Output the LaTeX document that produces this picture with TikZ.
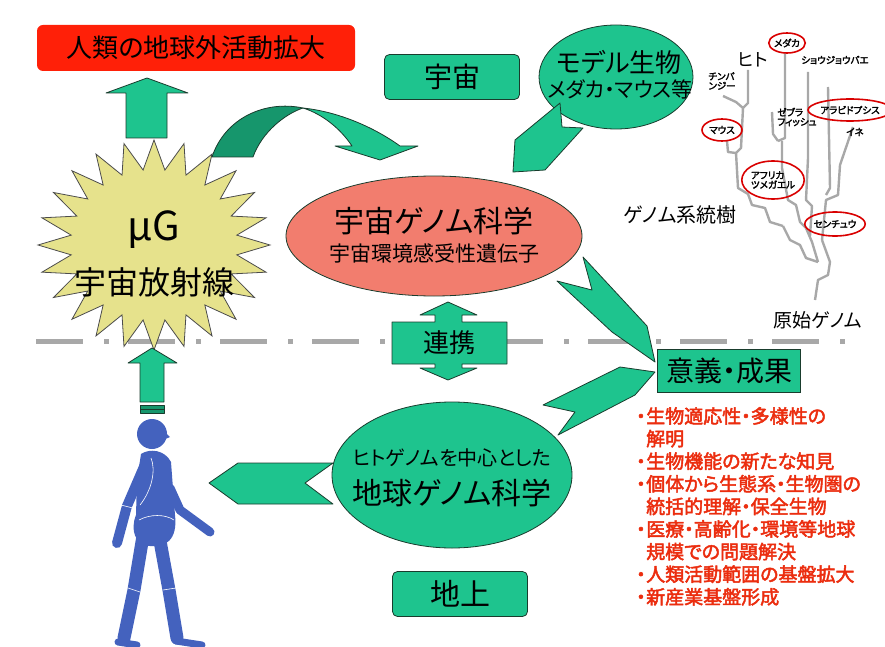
\documentclass[tikz,border=0pt]{standalone}
\usepackage{fontspec}
\usepackage{xcolor}
\setmainfont{Noto Sans CJK JP}[RawFeature=+palt]
\newfontfamily\heavy{Noto Sans CJK JP}[RawFeature=+palt,FakeBold=2.5]
\usetikzlibrary{shapes.geometric}
\definecolor{boxgreen}{RGB}{30,196,142}
\definecolor{shadegreen}{RGB}{22,150,108}
\definecolor{edgegreen}{RGB}{25,60,45}
\definecolor{burst}{RGB}{230,226,140}
\definecolor{titlered}{RGB}{255,32,8}
\definecolor{salmon}{RGB}{242,125,110}
\definecolor{listred}{RGB}{235,45,15}
\definecolor{treegray}{RGB}{168,168,168}
\definecolor{bodyblue}{RGB}{68,98,190}
\newcommand{\fsize}[1]{\fontsize{#1}{#1}\selectfont}
\newcommand{\Bullet}{\makebox[10pt][l]{・}}
\newcommand{\Indent}{\hspace*{10pt}}

\begin{document}
\begin{tikzpicture}[x=1pt,y=-1pt,
	gbox/.style={draw=edgegreen,line width=0.8pt,fill=boxgreen,rounded corners=5pt,minimum width=135,minimum height=45,inner sep=0pt},
	gshape/.style={draw=edgegreen,line width=0.8pt,fill=boxgreen,line join=round},
	genome/.style={ellipse,draw=edgegreen,line width=0.8pt,inner sep=0pt},
	branch/.style={draw=treegray,line width=2.4pt,line join=round},
	species/.style={font=\heavy\fsize{9.5},align=center,inner sep=0pt},
	marked/.style={ellipse,draw=red!85!black,line width=1.6pt,inner sep=0pt},
	limb/.style={draw=bodyblue,line cap=round,line join=round}]

	\useasboundingbox (0,0) rectangle (885,647);

	% border between space and ground
	\draw[treegray,line width=5pt,dash pattern=on 47pt off 21pt on 5pt off 19pt] (36,341) -- (846,341);

	% top banner
	\node[fill=titlered,rounded corners=6pt,minimum width=318,minimum height=46,inner sep=0pt,font=\fsize{26}] (title) at (196,48) {人類の地球外活動拡大};
	\draw[gshape] (126,138) -- (126,93) -- (106,93) -- (147,78) -- (188,93) -- (167,93) -- (167,138) -- cycle;% up to banner

	% microgravity burst
	\draw[draw=black!70,fill=burst,line width=0.8pt,line join=miter] plot[samples at={0,...,47},variable=\k]
		({154+116*ifthenelse(mod(\k,2)==0,1,0.72)*cos(7.5*\k)},{245+105*ifthenelse(mod(\k,2)==0,1,0.72)*sin(7.5*\k)}) -- cycle;
	\node[font=\fsize{40}] (mug) at (154,230) {μG};
	\node[font=\fsize{32}] (ray) at (154,282) {宇宙放射線};

	% curved arrow from burst to space genome
	\draw[gshape,fill=shadegreen] (212,157) .. controls (225,118) and (265,100) .. (303,108) .. controls (285,114) and (262,132) .. (253,157) -- cycle;
	\draw[gshape] (303,108) .. controls (340,112) and (375,128) .. (400,146) -- (418,146) -- (380,160) -- (335,146) -- (352,146) .. controls (340,128) and (322,114) .. (303,108) -- cycle;

	% space side
	\node[gbox,font=\fsize{28}] (space) at (452,77) {宇宙};
	\node[genome,fill=boxgreen,minimum width=154,minimum height=104] (model) at (616,77) {};
	\node[font=\fsize{26}] (modeltop) at (619,62) {モデル生物};
	\node[font=\fsize{21}] (modelsub) at (620,89) {メダカ・マウス等};
	\draw[gshape] (560,103) -- (515,140) -- (513,172) -- (545,170) -- (583,128) -- (562,127) -- cycle;% model -> space genome

	\node[genome,fill=salmon,minimum width=296,minimum height=120] (spacegenome) at (434,236) {};
	\node[font=\fsize{30}] (sgtop) at (434,221) {宇宙ゲノム科学};
	\node[font=\fsize{21}] (sgsub) at (434,253) {宇宙環境感受性遺伝子};

	% link between space and ground
	\draw[gshape] (448,302) -- (477,315) -- (462,315) -- (462,322) -- (507,322) -- (507,364) -- (462,364) -- (462,368)
		-- (477,368) -- (448,380) -- (420,368) -- (435,368) -- (435,364) -- (392,364) -- (392,322) -- (435,322) -- (435,315) -- (420,315) -- cycle;
	\node[font=\fsize{26}] (link) at (449,343) {連携};

	% arrows into results
	\draw[gshape] (583,257) -- (647,326) -- (655,362) -- (612,332) -- (557,281) -- (592,290) -- cycle;% space genome -> results
	\draw[gshape] (543,405) -- (620,367) -- (655,372) -- (635,395) -- (558,435) -- (575,412) -- cycle;% earth genome -> results

	% ground side
	\draw[gshape] (209,483) -- (238,463) -- (333,463) -- (305,483) -- (333,504) -- (238,504) -- cycle;% earth genome -> human
	\node[genome,fill=boxgreen,minimum width=240,minimum height=146] (earthgenome) at (452,475) {};
	\node[font=\fsize{20}] (egtop) at (452,458) {ヒトゲノムを中心とした};
	\node[font=\fsize{30}] (egsub) at (452,493) {地球ゲノム科学};
	\node[gbox,font=\fsize{30}] (ground) at (460,594) {地上};

	% results
	\node[gbox,rounded corners=0pt,minimum width=143,minimum height=43,font=\fsize{28}] (result) at (729,371) {意義・成果};
	\node[anchor=north west,align=left,inner sep=0pt,text=listred,font=\heavy\fontsize{19}{22.6}\selectfont] (merits) at (636,407) {%
		\Bullet 生物適応性・多様性の\\
		\Indent 解明\\
		\Bullet 生物機能の新たな知見\\
		\Bullet 個体から生態系・生物圏の\\
		\Indent 統括的理解・保全生物\\
		\Bullet 医療・高齢化・環境等地球\\
		\Indent 規模での問題解決\\
		\Bullet 人類活動範囲の基盤拡大\\
		\Bullet 新産業基盤形成};

	% genome tree
	\draw[branch] (748,70) -- (748,103) -- (743,108);
	\draw[branch] (723,96) -- (736,102) -- (743,108);
	\draw[branch] (743,108) -- (741,148) -- (736,153);
	\draw[branch] (727,141) -- (728,152) -- (736,153);
	\draw[branch] (736,153) -- (738,188) -- (748,194) -- (752,205) -- (765,208) -- (770,222) -- (783,226);
	\draw[branch] (785,53) -- (785,138) -- (778,141);
	\draw[branch] (772,112) -- (773,134) -- (778,141);
	\draw[branch] (782,141) -- (782,168) -- (788,200) -- (796,205) -- (800,222) -- (806,228);
	\draw[branch] (808,72) -- (808,158) -- (806,200) -- (812,206) -- (810,236);
	\draw[branch] (828,87) -- (830,188) -- (826,195);
	\draw[branch] (853,127) -- (840,165) -- (838,195) -- (826,200) -- (822,240);
	\draw[branch] (783,226) -- (790,240) -- (800,245) -- (806,258) -- (818,262);
	\draw[branch] (806,228) -- (812,242) -- (818,262);
	\draw[branch] (822,240) -- (830,262) -- (828,275) -- (818,280) -- (815,300);
	\node[font=\fsize{18}] (human) at (753,60) {ヒト};
	\node[species,marked,minimum width=32,minimum height=20] (medaka) at (787,43) {メダカ};
	\node[species] (fly) at (835,60) {ショウジョウバエ};
	\node[species,align=left] (chimp) at (722,81) {チンパ\\ンジー};
	\node[species,align=left] (zebra) at (797,117) {ゼブラ\\フィッシュ};
	\node[species,marked,minimum width=68,minimum height=22] (cress) at (850,110) {アラビドプシス};
	\node[species] (rice) at (855,132) {イネ};
	\node[species,marked,minimum width=40,minimum height=22] (mouse) at (722,130) {マウス};
	\node[species,marked,align=left,minimum width=56,minimum height=38] (frog) at (773,180) {アフリカ\\ツメガエル};
	\node[species,marked,minimum width=58,minimum height=24] (worm) at (835,224) {センチュウ};
	\node[font=\fsize{20}] (treename) at (680,215) {ゲノム系統樹};
	\node[font=\fsize{19}] (origin) at (818,320) {原始ゲノム};

	% human figure
	\draw[gshape] (140,402) -- (140,363) -- (128,363) -- (152,348) -- (177,363) -- (164,363) -- (164,402) -- cycle;% human -> burst
	\draw[gshape,fill=shadegreen] (140,405) rectangle (164,413);
	\draw[edgegreen,line width=1pt] (140,409) -- (164,409);
	\fill[bodyblue] (152,434) circle[radius=15pt];
	\fill[bodyblue] (164,431) -- (170,437) -- (163,440) -- cycle;% nose
	\draw[limb,line width=10pt] (146,462) -- (127,506) -- (117,543);% back arm
	\draw[limb,line width=13pt] (143,536) -- (134,590) -- (124,638);% back leg
	\draw[limb,line width=7pt] (118,642) -- (137,645);
	\fill[bodyblue] (141,454) .. controls (150,448) and (165,450) .. (171,462) -- (175,515) .. controls (178,540) and (165,548) .. (150,546)
		.. controls (135,545) and (130,530) .. (136,515) -- (137,480) -- cycle;% torso
	\draw[limb,line width=13pt] (158,530) -- (169,590) -- (177,638);% front leg
	\draw[limb,line width=7pt] (176,641) -- (202,645);
	\draw[limb,line width=9pt] (170,488) -- (180,510) -- (210,532);% front arm
	\draw[white,line width=0.6pt] (139,520) .. controls (150,514) and (165,514) .. (174,520);
	\draw[white,line width=0.6pt] (128,588) -- (140,592);
	\draw[white,line width=0.6pt] (163,590) -- (176,588);
	\draw[white,line width=0.6pt] (121,505) -- (133,508);
	\draw[white,line width=0.6pt] (151,458) .. controls (156,470) and (152,490) .. (140,505);
\end{tikzpicture}
\end{document}
